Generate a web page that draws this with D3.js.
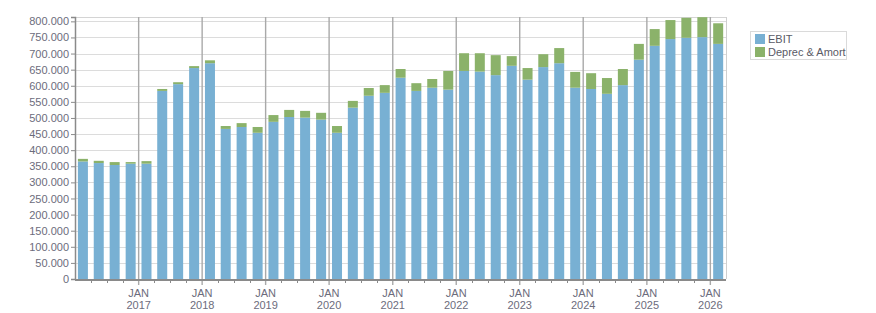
<!DOCTYPE html>
<html>
<head>
<meta charset="utf-8">
<script src="https://cdn.jsdelivr.net/npm/d3@7"></script>
<style>
  body { margin: 0; background: #fff; }
  svg { font-family: "Liberation Sans", Arial, sans-serif; }
</style>
</head>
<body>
<svg></svg>
<script>
// Data (quarter start, values in units)
const quarters = [
  "2016-01", "2016-04", "2016-07", "2016-10",
  "2017-01", "2017-04", "2017-07", "2017-10",
  "2018-01", "2018-04", "2018-07", "2018-10",
  "2019-01", "2019-04", "2019-07", "2019-10",
  "2020-01", "2020-04", "2020-07", "2020-10",
  "2021-01", "2021-04", "2021-07", "2021-10",
  "2022-01", "2022-04", "2022-07", "2022-10",
  "2023-01", "2023-04", "2023-07", "2023-10",
  "2024-01", "2024-04", "2024-07", "2024-10",
  "2025-01", "2025-04", "2025-07", "2025-10",
  "2026-01"
];
const ebit = [
  365000, 360000, 354000, 358000,
  358000, 584000, 605000, 655000,
  670000, 466000, 472000, 454000,
  488000, 503000, 501000, 495000,
  454000, 532000, 569000, 578000,
  625000, 584000, 594000, 588000,
  646000, 644000, 633000, 662000,
  619000, 658000, 670000, 594000,
  590000, 575000, 602000, 681000,
  724000, 745000, 749000, 751000,
  730000
];
const deprec = [
  8000, 7000, 9000, 5000,
  8000, 6000, 6000, 6000,
  9000, 9000, 12000, 18000,
  21000, 22000, 21000, 21000,
  21000, 21000, 24000, 24000,
  27000, 24000, 27000, 58000,
  55000, 57000, 62000, 30000,
  36000, 40000, 47000, 49000,
  49000, 49000, 50000, 49000,
  52000, 59000, 62000, 62000,
  64000
];
const seriesNames = ["EBIT", "Deprec & Amort"];
const colors = ["#78b0d3", "#8bb26a"];

// Sizes
const W = 876, H = 313;
const margin = { t: 17, l: 75 };
const width = 651;
const height = 262;

const svg = d3.select("svg").attr("width", W).attr("height", H);
const g = svg.append("g").attr("transform", `translate(${margin.l}, ${margin.t})`);

const parse = d3.timeParse("%Y-%m");
const dates = quarters.map(parse);

// Scales
const x = d3.scaleTime()
  .domain([new Date(2016, 0, 1), new Date(2026, 3, 1)])
  .range([0, width]);
const y = d3.scaleLinear()
  .domain([0, 813500])
  .range([height, 0]);

const loc = d3.formatLocale({ decimal: ",", thousands: ".", grouping: [3], currency: ["", ""] });
const fmt = loc.format(",d");

// horizontal grid
const yTicks = d3.range(0, 800001, 50000);
g.append("g")
  .selectAll("line")
  .data(yTicks.slice(1))
  .join("line")
    .attr("x1", 0).attr("x2", width)
    .attr("y1", d => Math.round(y(d)) + 0.5).attr("y2", d => Math.round(y(d)) + 0.5)
    .attr("stroke", "#dcdcdc");

// plot frame top / right
g.append("line").attr("x1", 0).attr("x2", width).attr("y1", 0.5).attr("y2", 0.5).attr("stroke", "#d4d4d4");
g.append("line").attr("x1", width + 0.5).attr("x2", width + 0.5).attr("y1", 0).attr("y2", height).attr("stroke", "#cfcfcf");

// vertical year grid
const years = d3.timeYear.range(new Date(2017, 0, 1), new Date(2026, 1, 1));
g.append("g")
  .selectAll("line")
  .data(years)
  .join("line")
    .attr("x1", d => x(d)).attr("x2", d => x(d))
    .attr("y1", 0).attr("y2", height + 6)
    .attr("stroke", "#a9a9a9")
    .attr("stroke-width", 1.4);

// bars
g.append("clipPath").attr("id", "clip")
  .append("rect").attr("x", 0).attr("y", 0).attr("width", width).attr("height", height);

const barW = 10;
const center = d => (x(d) + x(d3.timeMonth.offset(d, 3))) / 2;
const bars = g.append("g").attr("clip-path", "url(#clip)");

bars.selectAll(".ebit")
  .data(dates)
  .join("rect")
    .attr("class", "ebit")
    .attr("x", d => center(d) - barW / 2)
    .attr("width", barW)
    .attr("y", (d, i) => y(ebit[i]))
    .attr("height", (d, i) => y(0) - y(ebit[i]))
    .attr("fill", colors[0]);

bars.selectAll(".dep")
  .data(dates)
  .join("rect")
    .attr("class", "dep")
    .attr("x", d => center(d) - barW / 2)
    .attr("width", barW)
    .attr("y", (d, i) => y(ebit[i] + deprec[i]))
    .attr("height", (d, i) => y(ebit[i]) - y(ebit[i] + deprec[i]))
    .attr("fill", colors[1]);

// y axis
const yAxis = g.append("g")
  .call(d3.axisLeft(y).tickValues(yTicks).tickFormat(fmt).tickSize(4).tickPadding(2));
yAxis.select(".domain").attr("stroke", "#8a8a8a").attr("stroke-width", 1.5);
yAxis.selectAll(".tick line").attr("stroke", "#8a8a8a");
yAxis.selectAll("text")
  .attr("fill", "#6c6c7c")
  .style("font-size", "11px")
  .style("font-family", "'Liberation Sans', Arial, sans-serif");

// x axis: quarter minor ticks
const minor = d3.timeMonth.every(3).range(new Date(2016, 3, 1), new Date(2026, 3, 1))
  .filter(d => d.getMonth() !== 0);
const xg = g.append("g").attr("transform", `translate(0, ${height})`);
xg.selectAll(".minor")
  .data(minor)
  .join("line")
    .attr("x1", d => Math.round(x(d)) + 0.5).attr("x2", d => Math.round(x(d)) + 0.5)
    .attr("y1", 1).attr("y2", 4)
    .attr("stroke", "#8a8a8a");
xg.append("line")
  .attr("x1", 0).attr("x2", width)
  .attr("y1", 1).attr("y2", 1)
  .attr("stroke", "#8a8a8a").attr("stroke-width", 2);

const lab = xg.selectAll(".lab")
  .data(years)
  .join("text")
    .attr("x", d => x(d))
    .attr("text-anchor", "middle")
    .attr("fill", "#6c6c7c")
    .style("font-size", "11px");
lab.append("tspan").attr("x", d => x(d)).attr("y", 18).text("JAN");
lab.append("tspan").attr("x", d => x(d)).attr("y", 30).text(d => d3.timeFormat("%Y")(d));

// legend
const leg = svg.append("g").attr("transform", "translate(750, 31)");
leg.append("rect")
  .attr("x", 0.5).attr("y", 0.5)
  .attr("width", 96).attr("height", 28)
  .attr("fill", "#fff").attr("stroke", "#dadada");
seriesNames.forEach((name, i) => {
  leg.append("rect")
    .attr("x", 5).attr("y", 3 + i * 13)
    .attr("width", 10).attr("height", 10)
    .attr("fill", colors[i]);
  leg.append("text")
    .attr("x", 18).attr("y", 12 + i * 13)
    .attr("fill", "#5a5a66")
    .style("font-size", "11px")
    .text(name);
});
</script>
</body>
</html>
